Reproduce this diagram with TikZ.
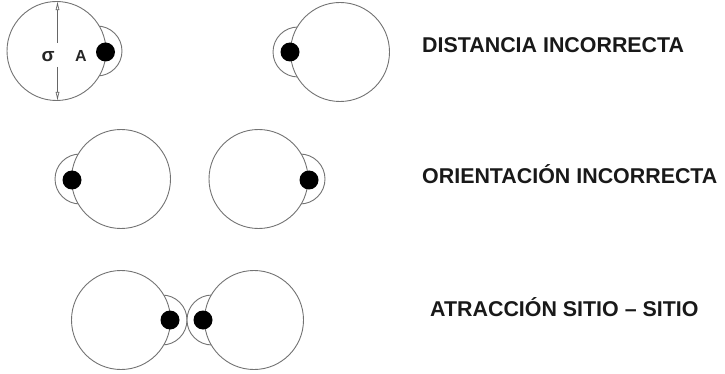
\documentclass[tikz,border=0pt]{standalone}
\usepackage{fontspec}
\setmainfont{Liberation Sans}
\usetikzlibrary{arrows.meta}
\begin{document}
\begin{tikzpicture}[x=1pt,y=-1pt,
  ln/.style={draw=black!55, line width=0.9pt},
  big/.style={ln, circle, fill=white, minimum size=99pt, inner sep=0pt},
  site/.style={ln, circle, fill=white, minimum size=50pt, inner sep=0pt},
  dot/.style={circle, fill=black, minimum size=19pt, inner sep=0pt},
  lab/.style={anchor=base west, inner sep=0pt, text=black!90, font=\fontsize{21.4}{24}\selectfont\bfseries},
  dim/.style={draw=black!60, line width=0.7pt, -{Latex[open,length=9pt,width=4pt]}},
  small/.style={anchor=base, inner sep=0pt, text=black!85, font=\bfseries\fontsize{16}{16}\selectfont}]
\useasboundingbox (0,0) rectangle (725,374);
% Row 1
\node[site] (s1) at (97,51) {};
\node[big] (b1) at (56.5,51) {};
\node[dot] (d1) at (105.5,52) {};
\node[site] (s2) at (298,52) {};
\node[big] (b2) at (340,52) {};
\node[dot] (d2) at (290,52) {};
% Row 2
\node[site] (s3) at (80,179) {};
\node[big] (b3) at (121,179) {};
\node[dot] (d3) at (72,180) {};
\node[site] (s4) at (300,179) {};
\node[big] (b4) at (258.5,179) {};
\node[dot] (d4) at (309,180) {};
% Row 3
\node[site] (s5) at (162,320) {};
\node[big] (b5) at (121,320) {};
\node[dot] (d5) at (170,320) {};
\node[site] (s6) at (212,320) {};
\node[big] (b6) at (254,320) {};
\node[dot] (d6) at (203,320) {};
% sigma dimension
\coordinate (g1) at (57.5,43);
\coordinate (g2) at (57.5,67);
\draw[dim] (g1) -- (b1.north -| g1);
\draw[dim] (g2) -- (b1.south -| g2);
\node[small, font=\bfseries\fontsize{19}{19}\selectfont] (sig) at (48,62) {σ};
\node[small] (A) at (81,62) {A};
% labels
\node[lab] (l1) at (422,53) {DISTANCIA INCORRECTA};
\node[lab] (l2) at (422,183) {ORIENTACIÓN INCORRECTA};
\node[lab] (l3) at (430,316) {ATRACCIÓN SITIO – SITIO};
\end{tikzpicture}
\end{document}
